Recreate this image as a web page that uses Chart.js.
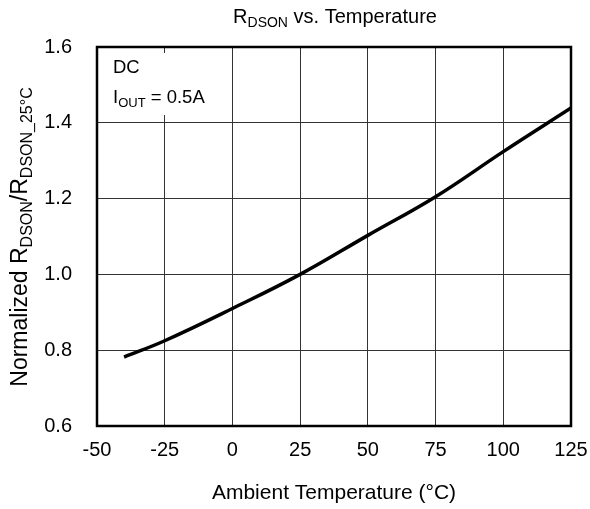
<!DOCTYPE html>
<html>
<head>
<meta charset="utf-8">
<script src="https://cdn.jsdelivr.net/npm/chart.js@4.4.1/dist/chart.umd.min.js"></script>
<style>
  html, body { margin: 0; padding: 0; background: #fff; }
  #wrap { width: 590px; height: 509px; }
</style>
</head>
<body>
<div id="wrap"><canvas id="chart" width="590" height="509"></canvas></div>
<script>
// Values
const temps = [-40, -25, 0, 25, 50, 75, 100, 125];
const rdson = [0.782, 0.825, 0.910, 1.0, 1.103, 1.205, 1.324, 1.439];
const xTicks = [-50, -25, 0, 25, 50, 75, 100, 125];
const yTicks = [0.6, 0.8, 1.0, 1.2, 1.4, 1.6];

const FONT = '"Liberation Sans", Arial, sans-serif';

// draw text made of normal and subscript parts
function richWidth(ctx, parts, size) {
    let w = 0;
    parts.forEach(p => {
        ctx.font = `${p.sub ? Math.round(size * 0.68) : size}px ${FONT}`;
        w += ctx.measureText(p.t).width;
    });
    return w;
}

function drawRich(ctx, parts, x, y, size, align) {
    let w = richWidth(ctx, parts, size);
    let cx = align === 'center' ? x - w / 2 : x;
    ctx.textBaseline = 'alphabetic';
    ctx.textAlign = 'left';
    ctx.fillStyle = '#000';
    parts.forEach(p => {
        const s = p.sub ? Math.round(size * 0.68) : size;
        ctx.font = `${s}px ${FONT}`;
        ctx.fillText(p.t, cx, p.sub ? y + size * 0.22 : y);
        cx += ctx.measureText(p.t).width;
    });
}

const decorPlugin = {
    id: 'decor',
    beforeDatasetsDraw(chart) {
        const ctx = chart.ctx;
        const a = chart.chartArea;
        ctx.save();
        // white label box over the grid
        ctx.fillStyle = '#fff';
        ctx.fillRect(a.left + 3, a.top + 6, 124, 62);
        // y args are baselines
        drawRich(ctx, [{ t: 'DC' }], a.left + 16, 73, 18.5, 'left');
        drawRich(ctx, [{ t: 'I' }, { t: 'OUT', sub: true }, { t: ' = 0.5A' }], a.left + 16, 103, 18.5, 'left');
        ctx.restore();
    },
    afterDraw(chart) {
        const ctx = chart.ctx;
        const a = chart.chartArea;
        ctx.save();
        // frame
        ctx.strokeStyle = '#000';
        ctx.lineWidth = 2.5;
        ctx.strokeRect(a.left, a.top, a.right - a.left, a.bottom - a.top);

        // title
        drawRich(ctx, [{ t: 'R' }, { t: 'DSON', sub: true }, { t: ' vs. Temperature' }], 335, 23, 20, 'center');

        // x axis title
        drawRich(ctx, [{ t: 'Ambient Temperature (°C)' }], 334, 499, 21, 'center');

        // y axis title
        ctx.translate(27, 237);
        ctx.rotate(-Math.PI / 2);
        drawRich(ctx, [
            { t: 'Normalized R' }, { t: 'DSON', sub: true },
            { t: '/R' }, { t: 'DSON_25°C', sub: true }
        ], 0, 0, 23, 'center');
        ctx.restore();
    }
};

const ctx = document.getElementById('chart').getContext('2d');
new Chart(ctx, {
    type: 'line',
    data: {
        datasets: [{
            data: temps.map((t, i) => ({ x: t, y: rdson[i] })),
            borderColor: '#000',
            borderWidth: 3.5,
            pointRadius: 0,
            fill: false,
            tension: 0.4,
            borderCapStyle: 'butt'
        }]
    },
    options: {
        responsive: false,
        animation: false,
        devicePixelRatio: 1,
        layout: { padding: { top: 47, right: 19, left: 0, bottom: 0 } },
        plugins: {
            legend: { display: false },
            tooltip: { enabled: false }
        },
        scales: {
            x: {
                type: 'linear',
                min: -50,
                max: 125,
                afterBuildTicks: s => { s.ticks = xTicks.map(v => ({ value: v })); },
                afterFit: s => { s.height = 83; s.paddingLeft = 0; s.paddingRight = 0; },
                grid: { color: '#333', lineWidth: 1, drawTicks: false },
                border: { display: false },
                ticks: {
                    color: '#000',
                    padding: 12,
                    maxRotation: 0,
                    font: { family: FONT, size: 20 }
                }
            },
            y: {
                min: 0.6,
                max: 1.6,
                afterBuildTicks: s => { s.ticks = yTicks.map(v => ({ value: v })); },
                afterFit: s => { s.width = 97; s.paddingTop = 0; s.paddingBottom = 0; },
                grid: { color: '#333', lineWidth: 1, drawTicks: false },
                border: { display: false },
                ticks: {
                    color: '#000',
                    padding: 25,
                    callback: v => v.toFixed(1),
                    font: { family: FONT, size: 20 }
                }
            }
        }
    },
    plugins: [decorPlugin]
});
</script>
</body>
</html>
